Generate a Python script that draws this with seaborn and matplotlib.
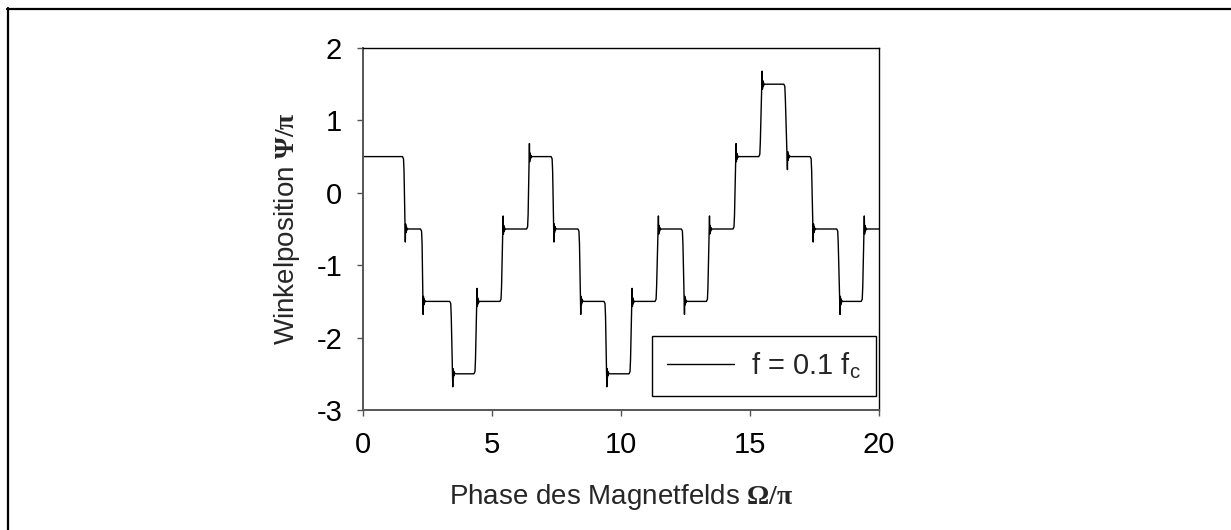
import numpy as np
import pandas as pd
import matplotlib
matplotlib.use("Agg")
import matplotlib.pyplot as plt
from matplotlib.lines import Line2D
import seaborn as sns

# ---- data ----
levels = [0.5, -0.5, -1.5, -2.5, -1.5, -0.5, 0.5, -0.5, -1.5, -2.5,
          -1.5, -0.5, -1.5, -0.5, 0.5, 1.5, 0.5, -0.5, -1.5, -0.5]
switch_start = [1.57, 2.27, 3.40, 4.34, 5.35, 6.38, 7.33, 8.37, 9.38, 10.35,
                11.36, 12.38, 13.35, 14.38, 15.38, 16.35, 17.37, 18.40, 19.35]
switch_end = [1.64, 2.33, 3.48, 4.42, 5.43, 6.45, 7.40, 8.44, 9.45, 10.43,
              11.45, 12.46, 13.43, 14.46, 15.47, 16.45, 17.45, 18.49, 19.43]
# ringing after each flip: offsets in phase and amplitude (relative to new level)
ring_dt = [0.0, 0.012, 0.025, 0.04, 0.055, 0.07, 0.12]
ring_amp = [0.18, -0.07, 0.05, -0.035, 0.02, -0.01, 0.0]
x_start, x_stop = 0.0, 20.0
x_ticks = [0, 5, 10, 15, 20]
y_ticks = [-3, -2, -1, 0, 1, 2]
legend_label = "f = 0.1 f$_\\mathrm{c}$"

# ---- build the trace vertices from the data ----
xs = [x_start]
ys = [levels[0]]
for i, (t0, t1) in enumerate(zip(switch_start, switch_end)):
    old, new = levels[i], levels[i + 1]
    d = 1.0 if new > old else -1.0
    xs += [t0 - 0.04, t0, t0 + 0.02]
    ys += [old, old + 0.03 * d, old + 0.2 * d]
    for dt, a in zip(ring_dt, ring_amp):
        xs.append(t1 + dt)
        ys.append(new + a * d)
xs.append(x_stop)
ys.append(levels[-1])
df = pd.DataFrame({"phase": xs, "psi": ys})

# ---- style ----
sns.set_style("ticks")
plt.rcParams["font.family"] = ["Liberation Sans", "DejaVu Sans"]
plt.rcParams["mathtext.fontset"] = "custom"
plt.rcParams["mathtext.rm"] = "Liberation Sans"
plt.rcParams["mathtext.it"] = "Liberation Sans:italic"
plt.rcParams["mathtext.bf"] = "Liberation Serif:bold"

fig = plt.figure(figsize=(12.31, 5.30), dpi=100)
ax = fig.add_axes([363 / 1231, 1 - 410 / 530, (879 - 363) / 1231, (410 - 48) / 530])

sns.lineplot(data=df, x="phase", y="psi", sort=False, estimator=None,
             color="black", linewidth=1.0, label=legend_label, ax=ax)

ax.set_xlim(0, 20)
ax.set_ylim(-3, 2)
ax.set_xticks(x_ticks)
ax.set_yticks(y_ticks)
ax.set_xticklabels([str(t) for t in x_ticks])
ax.set_yticklabels([str(t) for t in y_ticks])
ax.tick_params(axis="both", direction="out", length=4, width=1.0,
               color="#555555", labelsize=21, labelcolor="black")
ax.tick_params(axis="x", pad=11)
ax.tick_params(axis="y", pad=11)

for s in ["left", "bottom"]:
    ax.spines[s].set_color("#555555")
    ax.spines[s].set_linewidth(1.4)
for s in ["top", "right"]:
    ax.spines[s].set_visible(True)
    ax.spines[s].set_color("black")
    ax.spines[s].set_linewidth(1.0)

ax.set_xlabel("Phase des Magnetfelds $\\mathbf{\\Omega/\\pi}$", fontsize=20)
ax.set_ylabel("Winkelposition $\\mathbf{\\Psi/\\pi}$", fontsize=20)
ax.xaxis.set_label_coords(0.5, -0.2)
ax.yaxis.set_label_coords(-0.118, 0.5)

leg = ax.legend(loc="lower right", bbox_to_anchor=(0.994, 0.039),
                borderaxespad=0, frameon=True, fancybox=False,
                edgecolor="black", framealpha=1, fontsize=21,
                handlelength=2.3, handletextpad=0.6, borderpad=0.5)
leg.get_frame().set_linewidth(1.0)
for line in leg.get_lines():
    line.set_linewidth(1.0)

# outer frame lines (top and left only)
fig.add_artist(Line2D([7 / 1231, 1.0], [1 - 9 / 530, 1 - 9 / 530],
                      transform=fig.transFigure, color="black", linewidth=1.6))
fig.add_artist(Line2D([8 / 1231, 8 / 1231], [1 - 8 / 530, 0.0],
                      transform=fig.transFigure, color="black", linewidth=1.6))

fig.savefig("out.png", dpi=100)
